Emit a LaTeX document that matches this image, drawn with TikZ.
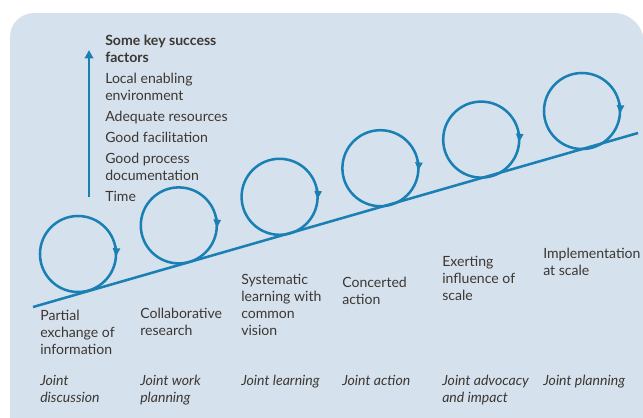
\documentclass[tikz,border=0pt]{standalone}
\usepackage{fontspec}
\setmainfont{Lato}
\usetikzlibrary{arrows.meta}

\definecolor{panelblue}{RGB}{214,225,238}
\definecolor{flowblue}{RGB}{26,128,180}
\definecolor{inkgrey}{RGB}{60,55,50}

\begin{document}
\begin{tikzpicture}[
    x=0.025cm, y=-0.025cm,
    loopcircle/.style={circle, draw=flowblue, line width=1.8pt, minimum size=1.9cm, inner sep=0pt, outer sep=0pt},
    flow/.style={draw=flowblue, line width=1.8pt},
    looptip/.style={-{Triangle[width=5pt,length=6pt]}},
    label/.style={anchor=north west, inner sep=0pt, align=left, text=inkgrey, font=\fontsize{10}{12}\selectfont},
    stage/.style={label, font=\fontsize{10}{12}\selectfont\itshape}
  ]

    \useasboundingbox (0,0) rectangle (643,417);
    \fill[panelblue] (644,420) -- (10,420) [rounded corners=0.6cm] -- (10,13)
      [rounded corners=0.75cm] -- (644,13) [rounded corners=0.33cm] -- (644,420) [sharp corners] -- cycle;

    % time arrow and success factors
    \coordinate (timebase) at (89,197);
    \coordinate (timetop) at (89,50);
    \draw[flow, -{Triangle[width=6pt,length=6pt]}] (timebase) -- (timetop);

    \node[label] (factors) at (105,35) {
      \textbf{Some key success}\\
      \textbf{factors}\\[3pt]
      Local enabling\\
      environment\\[3pt]
      Adequate resources\\[3pt]
      Good facilitation\\[3pt]
      Good process\\
      documentation\\[3pt]
      Time
    };

    % rising line with loops
    \coordinate (risestart) at (33,307);
    \coordinate (riseend) at (638,133);
    \draw[flow] (risestart) -- (riseend);

    \foreach \i in {0,...,5} {
      \node[loopcircle] (c\i) at ({78+100.8*\i},{254-28.6*\i}) {};
      \draw[flow, looptip] (c\i.12) arc[start angle=12, end angle=-4, radius=0.95cm];
    }

    % what happens at each loop
    \node[label] (partial) at (40,310) {Partial\\exchange of\\information};
    \node[label] (collab) at (140,308) {Collaborative\\research};
    \node[label] (system) at (241,274) {Systematic\\learning with\\common\\vision};
    \node[label] (concert) at (342,277) {Concerted\\action};
    \node[label] (exert) at (442,256) {Exerting\\influence of\\scale};
    \node[label] (implement) at (543,248) {Implementation\\at scale};

    % joint activity
    \node[stage] (jdisc) at (40,375) {Joint\\discussion};
    \node[stage] (jwork) at (140,375) {Joint work\\planning};
    \node[stage] (jlearn) at (241,375) {Joint learning};
    \node[stage] (jaction) at (342,375) {Joint action};
    \node[stage] (jadvocacy) at (442,375) {Joint advocacy\\and impact};
    \node[stage] (jplan) at (543,375) {Joint planning};
  \end{tikzpicture}
\end{document}
